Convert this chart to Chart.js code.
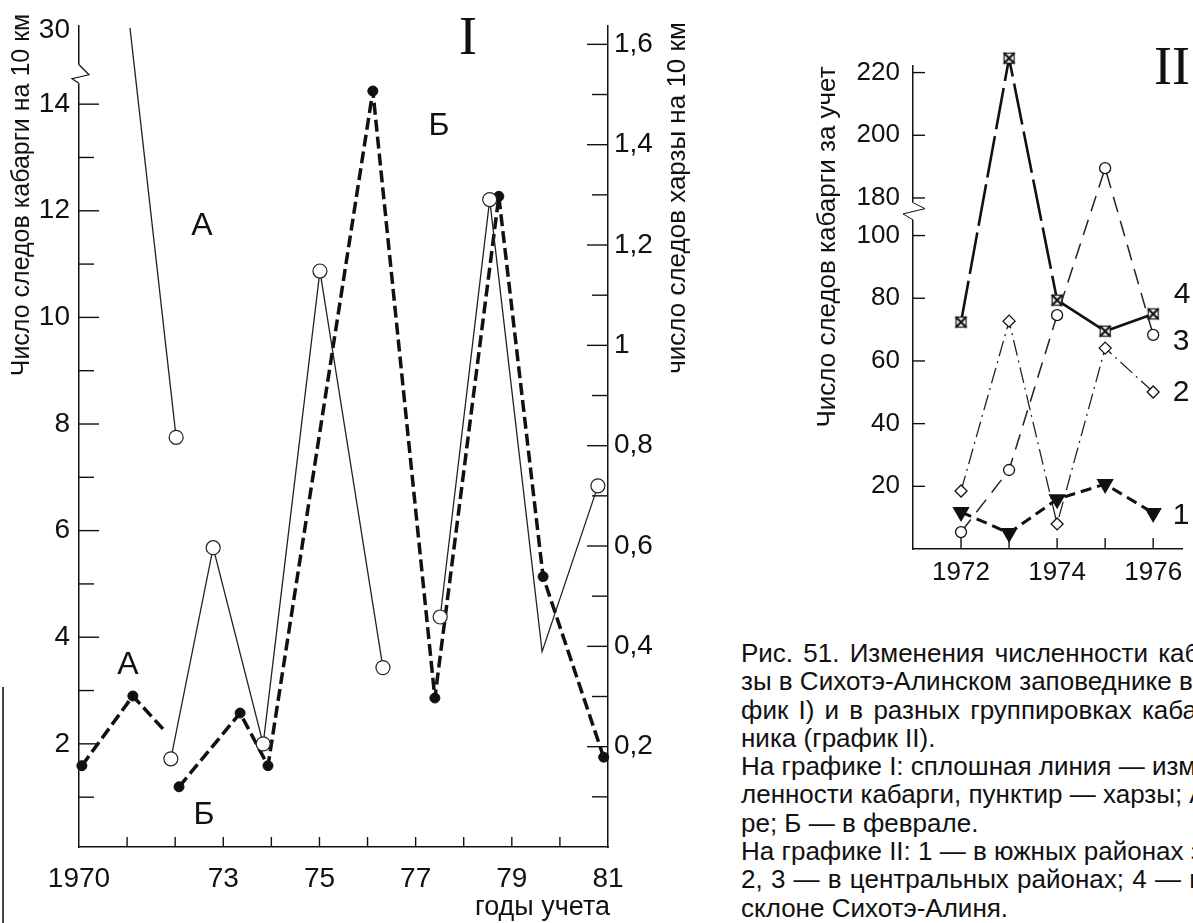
<!DOCTYPE html>
<html lang="ru">
<head>
<meta charset="utf-8">
<title>Рис. 51</title>
<script src="https://cdn.jsdelivr.net/npm/chart.js@4.4.1/dist/chart.umd.min.js"></script>
<style>
  html, body { margin: 0; padding: 0; background: #fff; }
  body { width: 1193px; height: 923px; position: relative; overflow: hidden;
         font-family: "Liberation Sans", Arial, sans-serif; color: #111; }
  canvas { position: absolute; top: 0; }
  #g1 { left: 0; }
  #g2 { left: 790px; }
  #edge { position: absolute; left: 2px; top: 687px; width: 2px; height: 236px; background: #444; }
  #caption { position: absolute; left: 741px; top: 639px; font-size: 26px; line-height: 28.3px; white-space: nowrap; }
</style>
</head>
<body>
<canvas id="g1" width="740" height="923"></canvas>
<canvas id="g2" width="403" height="600"></canvas>
<div id="edge"></div>
<div id="caption">
  <div style="word-spacing:3px">Рис. 51. Изменения численности каб</div>
  <div>зы в Сихотэ-Алинском заповеднике в</div>
  <div style="word-spacing:3px">фик I) и в разных группировках кабар</div>
  <div>ника (график II).</div>
  <div>На графике I: сплошная линия — изм</div>
  <div>ленности кабарги, пунктир — харзы; А</div>
  <div>ре; Б — в феврале.</div>
  <div>На графике II: 1 — в южных районах з</div>
  <div style="word-spacing:1px">2, 3 — в центральных районах; 4 — н</div>
  <div>склоне Сихотэ-Алиня.</div>
</div>
<script>
// График I: кабарга (левая ось), харза (правая ось); А – январь, Б – февраль
const kabargaAYears = [1971.06, 1972.02];
const kabargaA = [31, 7.75];
const kabargaB1Years = [1971.91, 1972.79, 1973.83, 1975.01, 1976.32];
const kabargaB1 = [1.72, 5.68, 2.0, 10.87, 3.43];
const kabargaB2Years = [1977.51, 1978.54, 1979.63, 1980.79];
const kabargaB2 = [4.38, 12.21, 3.73, 6.84];
const kharzaAYears = [1970.06, 1971.12, 1971.75];
const kharzaA = [0.162, 0.301, 0.235];
const kharzaBYears = [1972.08, 1973.35, 1973.93, 1976.11, 1977.40, 1978.73, 1979.65, 1980.91];
const kharzaB = [0.120, 0.267, 0.162, 1.507, 0.297, 1.297, 0.539, 0.179];

const years1 = [1970, 1971, 1972, 1973, 1974, 1975, 1976, 1977, 1978, 1979, 1980, 1981];
const yearLabels1 = ['1970', '', '', '73', '', '75', '', '77', '', '79', '', '81'];
const leftTicks = [1, 2, 3, 4, 5, 6, 7, 8, 9, 10, 11, 12, 13, 14];
const leftLabels = ['', '2', '', '4', '', '6', '', '8', '', '10', '', '12', '', '14'];
const rightTicks = [0.1, 0.2, 0.3, 0.4, 0.5, 0.6, 0.7, 0.8, 0.9, 1.0, 1.1, 1.2, 1.3, 1.4, 1.5, 1.6];
const rightLabels = ['', '0,2', '', '0,4', '', '0,6', '', '0,8', '', '1', '', '1,2', '', '1,4', '', '1,6'];

// График II: группировки кабарги
const years2 = [1972, 1973, 1974, 1975, 1976];
const yearLabels2 = ['1972', '', '1974', '', '1976'];
const group1 = [11.8, 5.1, 15.9, 20.7, 11.5];
const group2 = [18.5, 72.7, 8.0, 64.1, 50.1];
const group3 = [5.4, 25.2, 74.6, 189.5, 68.3];
const group4 = [72.4, 224.6, 79.4, 69.5, 75.0];
const ticks2 = [20, 40, 60, 80, 100, 180, 200, 220];

const INK = '#111';
const SANS = '"Liberation Sans", Arial, sans-serif';
const SERIF = '"Liberation Serif", "Times New Roman", serif';

// разрывы осей
const brk1 = v => v > 20 ? 15.38 + (v - 30) * 0.05 : v;
const brk2 = v => v > 140 ? v - 68 : v;
const xy = (xs, ys, f) => xs.map((x, i) => ({ x: x, y: f(ys[i]) }));
const same = v => v;

function seg(ctx, x1, y1, x2, y2) {
  ctx.beginPath(); ctx.moveTo(x1, y1); ctx.lineTo(x2, y2); ctx.stroke();
}
function label(ctx, s, x, y, font, align, rot) {
  ctx.save();
  ctx.translate(x, y);
  if (rot) ctx.rotate(rot);
  ctx.font = font;
  ctx.fillStyle = INK;
  ctx.textAlign = align || 'center';
  ctx.textBaseline = 'middle';
  ctx.fillText(s, 0, 0);
  ctx.restore();
}

const deco1 = {
  id: 'deco1',
  afterDraw(ch) {
    const { ctx, chartArea: a } = ch;
    const { x, yL, yR } = ch.scales;
    ctx.save();
    ctx.strokeStyle = INK;
    ctx.lineWidth = 1.4;
    leftTicks.forEach((v, i) => {
      const y = yL.getPixelForValue(v);
      seg(ctx, a.left, y, a.left + (leftLabels[i] ? 20 : 15), y);
    });
    rightTicks.forEach((v, i) => {
      const y = yR.getPixelForValue(v);
      seg(ctx, a.right - (rightLabels[i] ? 21 : 16), y, a.right, y);
    });
    years1.slice(1, -1).forEach(v => {
      const px = x.getPixelForValue(v);
      seg(ctx, px, a.bottom, px, a.bottom - 10);
    });
    // разрыв левой оси
    const b0 = yL.getPixelForValue(14.74), b1 = yL.getPixelForValue(14.39);
    ctx.fillStyle = '#fff';
    ctx.fillRect(a.left - 3, b0, 6, b1 - b0);
    ctx.lineWidth = 1.2;
    ctx.beginPath();
    ctx.moveTo(a.left, b0);
    ctx.lineTo(a.left + 10, b0 + 10);
    ctx.lineTo(a.left - 7, b0 + 14);
    ctx.lineTo(a.left, b1);
    ctx.stroke();

    label(ctx, 'Число следов кабарги на 10 км', 22, 195, '25px ' + SANS, 'center', -Math.PI / 2);
    label(ctx, 'число следов харзы на 10 км', 678, 198, '26px ' + SANS, 'center', -Math.PI / 2);
    label(ctx, 'I', 468, 40, '54px ' + SERIF);
    label(ctx, 'Б', 439, 126, '32px ' + SANS);
    label(ctx, 'А', 202, 226, '32px ' + SANS);
    label(ctx, 'А', 128, 665, '32px ' + SANS);
    label(ctx, 'Б', 204, 815, '32px ' + SANS);
    label(ctx, 'годы учета', 610, 908, '27px ' + SANS, 'right');
    ctx.restore();
  }
};

const thin = { borderColor: '#222', borderWidth: 1.3, pointStyle: 'circle', pointBackgroundColor: '#fff',
               pointBorderColor: '#222', pointBorderWidth: 1.2, yAxisID: 'yL', clip: false };
const heavy = { borderColor: INK, borderWidth: 3.5, borderDash: [12, 5], borderJoinStyle: 'round',
                pointStyle: 'circle', pointBackgroundColor: INK, pointBorderColor: INK, pointBorderWidth: 1,
                yAxisID: 'yR', clip: false };

new Chart(document.getElementById('g1'), {
  type: 'line',
  data: {
    datasets: [
      Object.assign({ label: 'кабарга А', data: xy(kabargaAYears, kabargaA, brk1), pointRadius: [0, 7] }, thin),
      Object.assign({ label: 'кабарга Б', data: xy(kabargaB1Years, kabargaB1, brk1), pointRadius: 7 }, thin),
      Object.assign({ label: 'кабарга Б', data: xy(kabargaB2Years, kabargaB2, brk1), pointRadius: [7, 7, 0, 7] }, thin),
      Object.assign({ label: 'харза А', data: xy(kharzaAYears, kharzaA, same), pointRadius: [5, 5, 0] }, heavy),
      Object.assign({ label: 'харза Б', data: xy(kharzaBYears, kharzaB, same), pointRadius: 5 }, heavy)
    ]
  },
  options: {
    responsive: false,
    animation: false,
    devicePixelRatio: 1,
    layout: { padding: { top: 19 } },
    elements: { line: { tension: 0, fill: false } },
    plugins: { legend: { display: false }, tooltip: { enabled: false } },
    scales: {
      x: {
        type: 'linear', position: 'bottom', min: 1970, max: 1981,
        afterFit: s => { s.height = 76; },
        afterBuildTicks: s => { s.ticks = years1.map(v => ({ value: v })); },
        ticks: { callback: (v, i) => yearLabels1[i], autoSkip: false, maxRotation: 0, padding: 15,
                 color: INK, font: { family: SANS, size: 28 } },
        grid: { display: false, drawTicks: false },
        border: { display: true, color: INK, width: 1.5 }
      },
      yL: {
        type: 'linear', position: 'left', min: 0.065, max: 15.47,
        afterFit: s => { s.width = 79; },
        afterBuildTicks: s => { s.ticks = leftTicks.concat([30]).map(v => ({ value: brk1(v) })); },
        ticks: { callback: (v, i) => leftLabels.concat(['30'])[i], autoSkip: false, padding: 9,
                 color: INK, font: { family: SANS, size: 28 } },
        grid: { display: false, drawTicks: false },
        border: { display: true, color: INK, width: 1.5 }
      },
      yR: {
        type: 'linear', position: 'right', min: 0, max: 1.637,
        afterFit: s => { s.width = 132; },
        afterBuildTicks: s => { s.ticks = rightTicks.map(v => ({ value: v })); },
        ticks: { callback: (v, i) => rightLabels[i], autoSkip: false, padding: 6,
                 color: INK, font: { family: SANS, size: 28 } },
        grid: { display: false, drawTicks: false },
        border: { display: true, color: INK, width: 1.5 }
      }
    }
  },
  plugins: [deco1]
});

// маркер группы 4 – крест в квадрате
function boxCross() {
  const c = document.createElement('canvas');
  c.width = c.height = 15;
  const g = c.getContext('2d');
  g.fillStyle = '#fff';
  g.fillRect(2, 2, 11, 11);
  g.strokeStyle = INK;
  g.lineWidth = 1.2;
  g.strokeRect(2.5, 2.5, 10, 10);
  g.lineWidth = 2.2;
  g.beginPath();
  g.moveTo(2, 2); g.lineTo(13, 13);
  g.moveTo(13, 2); g.lineTo(2, 13);
  g.stroke();
  return c;
}

const deco2 = {
  id: 'deco2',
  afterDraw(ch) {
    const { ctx, chartArea: a } = ch;
    const { x, y } = ch.scales;
    ctx.save();
    ctx.strokeStyle = INK;
    ctx.lineWidth = 1.4;
    ticks2.forEach(v => {
      const py = y.getPixelForValue(brk2(v));
      seg(ctx, a.left, py, a.left + 12, py);
    });
    years2.forEach(v => {
      const px = x.getPixelForValue(v);
      seg(ctx, px, a.bottom, px, a.bottom - 11);
    });
    // разрыв оси между 100 и 180
    const b0 = y.getPixelForValue(110.5), b1 = y.getPixelForValue(105);
    ctx.fillStyle = '#fff';
    ctx.fillRect(a.left - 3, b0, 6, b1 - b0);
    ctx.lineWidth = 1;
    ctx.beginPath();
    ctx.moveTo(a.left, b0);
    ctx.lineTo(a.left + 12, b0 + 6);
    ctx.lineTo(a.left - 10, b1 - 6);
    ctx.lineTo(a.left, b1);
    ctx.stroke();

    label(ctx, 'Число следов кабарги за учет', 38, 247, '26px ' + SANS, 'center', -Math.PI / 2);
    label(ctx, 'II', 382, 70, '54px ' + SERIF);
    label(ctx, '4', 392, 295, '30px ' + SANS);
    label(ctx, '3', 391, 342, '30px ' + SANS);
    label(ctx, '2', 391, 393, '30px ' + SANS);
    label(ctx, '1', 391, 516, '30px ' + SANS);
    ctx.restore();
  }
};

new Chart(document.getElementById('g2'), {
  type: 'line',
  data: {
    datasets: [
      { label: '1', data: xy(years2, group1, brk2), borderColor: INK, borderWidth: 3, borderDash: [11, 6],
        pointStyle: 'triangle', rotation: 180, pointRadius: 7, pointBackgroundColor: INK, pointBorderColor: INK, clip: false },
      { label: '2', data: xy(years2, group2, brk2), borderColor: '#222', borderWidth: 1.3, borderDash: [16, 5, 2, 5],
        pointStyle: 'rectRot', pointRadius: 6, pointBackgroundColor: '#fff', pointBorderColor: INK, pointBorderWidth: 1.3, clip: false },
      { label: '3', data: xy(years2, group3, brk2), borderColor: '#222', borderWidth: 1.5, borderDash: [16, 9],
        pointStyle: 'circle', pointRadius: 5.5, pointBackgroundColor: '#fff', pointBorderColor: INK, pointBorderWidth: 1.3, clip: false },
      { label: '4', data: xy(years2, group4, brk2), borderColor: INK, borderWidth: 2.6, borderJoinStyle: 'round',
        segment: { borderDash: c => c.p0DataIndex < 2 ? [42, 7] : [] },
        pointStyle: boxCross(), pointRadius: 7, clip: false }
    ]
  },
  options: {
    responsive: false,
    animation: false,
    devicePixelRatio: 1,
    layout: { padding: { top: 66, right: 11 } },
    elements: { line: { tension: 0, fill: false } },
    plugins: { legend: { display: false }, tooltip: { enabled: false } },
    scales: {
      x: {
        type: 'linear', position: 'bottom', min: 1971, max: 1976.6,
        afterFit: s => { s.height = 51; },
        afterBuildTicks: s => { s.ticks = years2.map(v => ({ value: v })); },
        ticks: { callback: (v, i) => yearLabels2[i], autoSkip: false, maxRotation: 0, padding: 8,
                 color: INK, font: { family: SANS, size: 26 } },
        grid: { display: false, drawTicks: false },
        border: { display: true, color: INK, width: 1.5 }
      },
      y: {
        type: 'linear', position: 'left', min: 0, max: 154.1,
        afterFit: s => { s.width = 123; },
        afterBuildTicks: s => { s.ticks = ticks2.map(v => ({ value: brk2(v) })); },
        ticks: { callback: (v, i) => String(ticks2[i]), autoSkip: false, padding: 13,
                 color: INK, font: { family: SANS, size: 26 } },
        grid: { display: false, drawTicks: false },
        border: { display: true, color: INK, width: 1.5 }
      }
    }
  },
  plugins: [deco2]
});
</script>
</body>
</html>
